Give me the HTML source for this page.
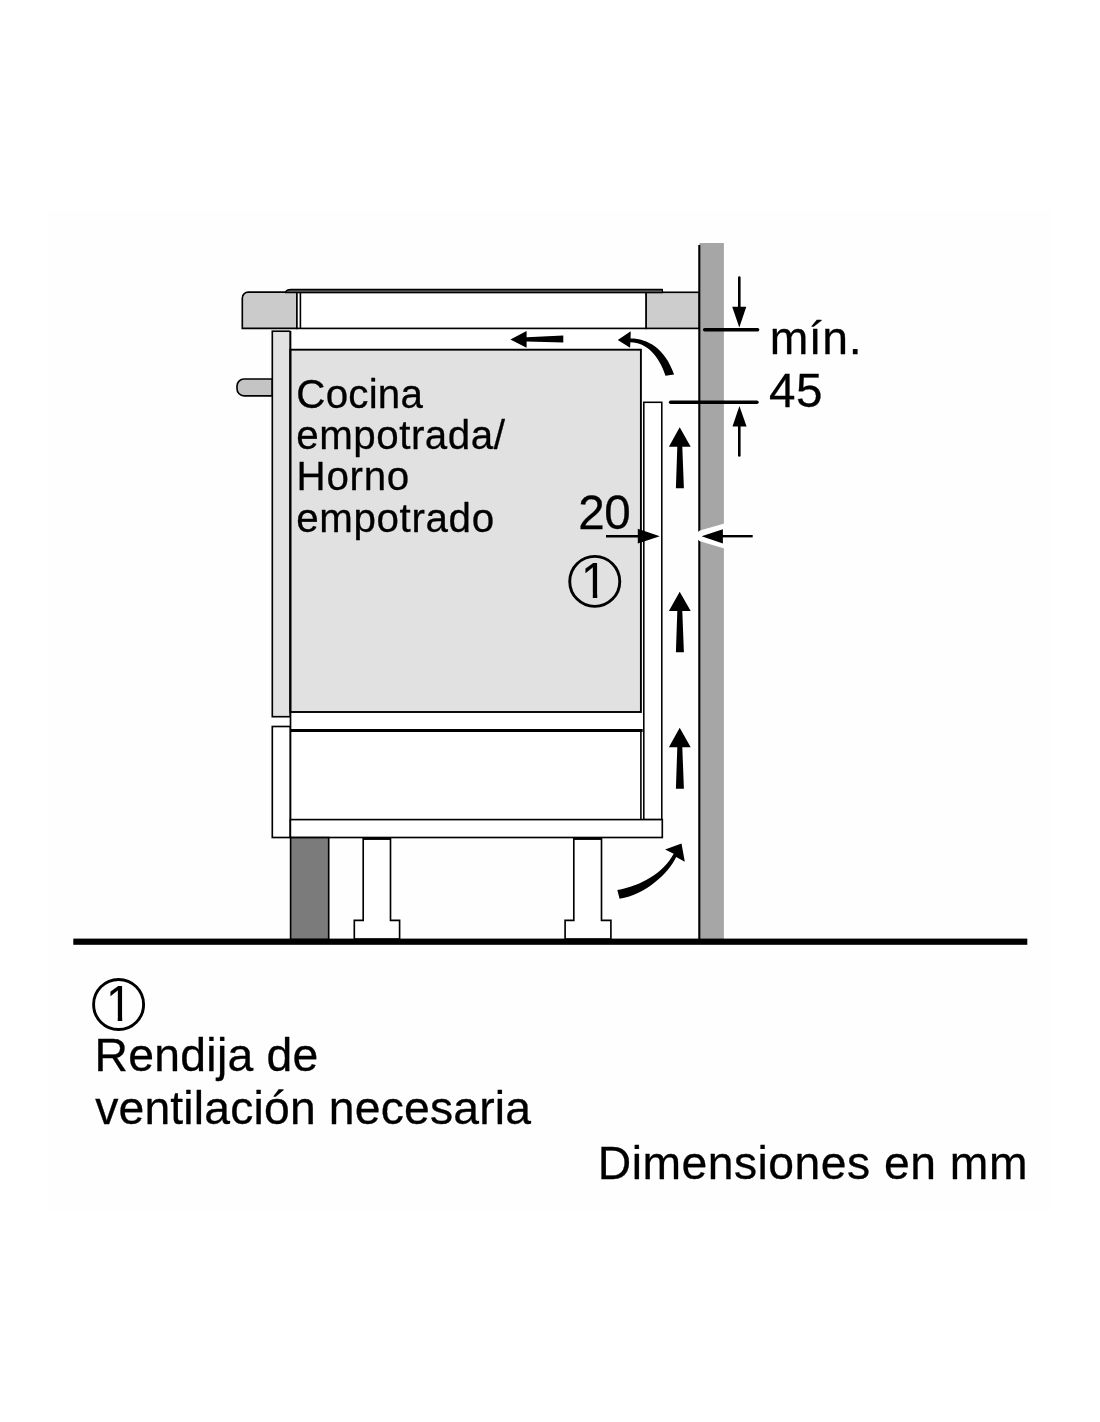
<!DOCTYPE html>
<html lang="es">
<head>
<meta charset="utf-8">
<title>Rendija de ventilación necesaria</title>
<style>
html,body{margin:0;padding:0;background:#fff;}
body{width:1100px;height:1422px;overflow:hidden;position:relative;}
svg{position:absolute;left:0;top:0;display:block;will-change:transform;}
text{font-family:"Liberation Sans",sans-serif;fill:#000;stroke:#000;stroke-width:0.3px;stroke-linejoin:round;}
.t47{font-size:46.3px;}
.t48{font-size:47.6px;}
.t41{font-size:40.3px;}
.o{stroke:#000;stroke-width:1.65;stroke-linejoin:miter;}
</style>
</head>
<body>
<svg width="1100" height="1422" viewBox="0 0 1100 1422">
<defs>
<clipPath id="c1a"><rect x="570" y="555" width="27.25" height="38.4"/><rect x="592.8" y="593" width="4.45" height="6"/></clipPath>
<clipPath id="c1b"><rect x="95" y="978" width="27.2" height="38.4"/><rect x="117.75" y="1016" width="4.45" height="6"/></clipPath>
</defs>
<rect x="0" y="0" width="1100" height="1422" fill="#ffffff"/>
<rect x="48" y="210" width="1004" height="1002" fill="#fefefe"/>

<!-- wall -->
<rect x="699.5" y="243" width="24.4" height="696" fill="#a6a6a6"/>
<line x1="699.3" y1="245" x2="699.3" y2="939" stroke="#000" stroke-width="2.1"/>

<!-- handle -->
<path class="o" d="M272.3 379 H244 A7 7 0 0 0 237 386 V388.8 A7 7 0 0 0 244 395.8 H272.3 Z" fill="#c4c4c4"/>

<!-- door panel -->
<rect class="o" x="272.3" y="331.2" width="18" height="385.5" fill="#e2e2e2"/>
<!-- drawer front -->
<rect class="o" x="272.3" y="726.5" width="18.1" height="111" fill="#fff"/>

<!-- cabinet body (white) -->
<rect x="290.3" y="328" width="351" height="509" fill="#fff"/>
<!-- oven -->
<rect x="290.3" y="349.7" width="350.6" height="362.3" fill="#e1e1e1" stroke="#000" stroke-width="1.9"/>
<!-- cabinet left side -->
<line x1="290.5" y1="331" x2="290.5" y2="837.6" stroke="#000" stroke-width="1.7"/>
<!-- lower right inner edge -->
<line x1="640.9" y1="730.4" x2="640.9" y2="819.5" stroke="#000" stroke-width="1.6"/>
<!-- shelf -->
<line x1="290.3" y1="730.4" x2="642.7" y2="730.4" stroke="#000" stroke-width="3"/>
<!-- rear panel -->
<rect x="643.8" y="402.3" width="18" height="417.3" fill="#fff" stroke="#000" stroke-width="1.55"/>
<!-- bottom panel -->
<rect class="o" x="290.4" y="819.6" width="371.9" height="17.9" fill="#fff"/>

<!-- plinth -->
<rect class="o" x="290.6" y="837.6" width="38.1" height="102" fill="#7b7b7b"/>
<!-- legs -->
<path class="o" d="M363.2 838.8 H390.5 V920.4 H399.6 V939 H354.3 V920.4 H363.2 Z" fill="#fff"/>
<path class="o" d="M573.8 838.8 H601.5 V920.4 H610.9 V939 H565.1 V920.4 H573.8 Z" fill="#fff"/>
<line x1="363.2" y1="838.7" x2="390.5" y2="838.7" stroke="#000" stroke-width="2.1"/>
<line x1="573.8" y1="838.7" x2="601.5" y2="838.7" stroke="#000" stroke-width="2.1"/>

<!-- countertop left -->
<path class="o" d="M296.9 292.1 H248.2 A5.9 5.9 0 0 0 242.3 298 V328.4 H296.9 Z" fill="#cbcbcb"/>
<!-- countertop right -->
<rect class="o" x="646" y="292.3" width="53" height="36.1" fill="#cdcdcd"/>
<!-- hob body -->
<rect class="o" x="296.9" y="292.3" width="349.1" height="36.1" fill="#fff"/>
<line x1="300.4" y1="292" x2="300.4" y2="328.4" stroke="#000" stroke-width="1.6"/>
<!-- hob glass -->
<path d="M285.2 292.6 Q286.6 289.5 291 289.5 H662.4 V292.6 Z" fill="#505050" stroke="#000" stroke-width="1.3" stroke-linejoin="round"/>

<!-- floor -->
<rect x="73.3" y="938.6" width="954" height="6.2" fill="#000"/>

<!-- dimension lines -->
<line x1="704.7" y1="329.7" x2="757.6" y2="329.7" stroke="#000" stroke-width="3.5" stroke-linecap="round"/>
<line x1="670.6" y1="402.2" x2="756.9" y2="402.2" stroke="#000" stroke-width="3.5" stroke-linecap="round"/>
<!-- dim arrow down -->
<line x1="739.3" y1="277.6" x2="739.3" y2="310" stroke="#000" stroke-width="2.6" stroke-linecap="round"/>
<path d="M739.3 327.6 L732.2 306.8 H746.3 Z" fill="#000"/>
<!-- dim arrow up -->
<line x1="739.3" y1="424" x2="739.3" y2="455.4" stroke="#000" stroke-width="2.6" stroke-linecap="round"/>
<path d="M739.4 406 L732.5 426.6 H746.6 Z" fill="#000"/>

<!-- 20 arrow (pointing right) -->
<line x1="606" y1="536.2" x2="640" y2="536.2" stroke="#000" stroke-width="2.4"/>
<path d="M659.8 536.2 L637.8 528.8 V543.6 Z" fill="#000"/>
<!-- arrow pointing left with white notch -->
<path d="M724.4 523.4 L699.8 530.4 L697.8 532.2 V539.6 L699.8 541.3 L724.4 548.6 Z" fill="#fff"/>
<path d="M701.6 536.2 L722.9 529.2 V543.5 Z" fill="#000"/>
<line x1="722" y1="536.2" x2="752.7" y2="536.2" stroke="#000" stroke-width="2.4"/>

<!-- air flow arrows (vertical) -->
<path d="M679.7 427.3 L690.7 446.8 H682.3 L683.9 488.2 H675.9 L677.3 446.8 H668.9 Z" fill="#000"/>
<path d="M679.7 591.8 L690.7 610.9 H682.3 L683.9 652.2 H675.9 L677.3 610.9 H668.9 Z" fill="#000"/>
<path d="M679.7 727.8 L690.7 747.3 H682.3 L683.9 788.7 H675.9 L677.3 747.3 H668.9 Z" fill="#000"/>

<!-- straight left arrow -->
<path d="M510.4 339.4 L526.6 331 V337.3 L563.3 335.4 V342.6 L526.6 341.6 V347.8 Z" fill="#000"/>
<!-- curved arrow top -->
<path d="M617.8 339.9 L630.7 331.2 L630.6 338.4 C646.5 338.2 665 347.5 674.1 374.5 L665.5 375.7 C659 356 647 342.6 630.4 342.3 L630.1 347.8 Z" fill="#000"/>
<!-- curved arrow bottom -->
<path d="M617.3 890.1 C641 885.6 663.2 873.2 673.7 853.7 L665.1 849.5 L681.5 843.5 L684.8 861.8 L676.2 857 C668.6 873 646 894.6 619.6 898.7 Z" fill="#000"/>

<!-- circled 1 in diagram -->
<circle cx="594.75" cy="581.4" r="25" fill="none" stroke="#000" stroke-width="2.9"/>
<g clip-path="url(#c1a)"><text class="t48" style="stroke-width:0.2px" transform="translate(580.9 597.7) scale(1 1.055)">1</text></g>

<!-- labels -->
<text class="t41" x="296.37" y="408.4" letter-spacing="0.207">Cocina</text>
<text class="t41" x="296.22" y="449.2" letter-spacing="0.539">empotrada/</text>
<text class="t41" x="296.59" y="490.4" letter-spacing="0.713">Horno</text>
<text class="t41" x="296.22" y="531.5" letter-spacing="0.65">empotrado</text>
<text class="t48" transform="translate(578.26 529.2) scale(1 1.015)" letter-spacing="-0.4">20</text>
<text class="t47" x="769.68" y="354.1" letter-spacing="0.601">mín.</text>
<text class="t48" transform="translate(769.12 407) scale(1 1.015)" letter-spacing="0.303">45</text>

<!-- legend -->
<circle cx="118.6" cy="1004.5" r="25" fill="none" stroke="#000" stroke-width="2.9"/>
<g clip-path="url(#c1b)"><text class="t48" style="stroke-width:0.2px" transform="translate(106.1 1020.6) scale(1 1.055)">1</text></g>
<text class="t47" x="94.57" y="1071.3" letter-spacing="0.27">Rendija de</text>
<text class="t47" x="95.19" y="1124.4" letter-spacing="0.17">ventilación necesaria</text>
<text class="t47" x="597.73" y="1179.4" letter-spacing="0.486">Dimensiones en mm</text>
</svg>
</body>
</html>
